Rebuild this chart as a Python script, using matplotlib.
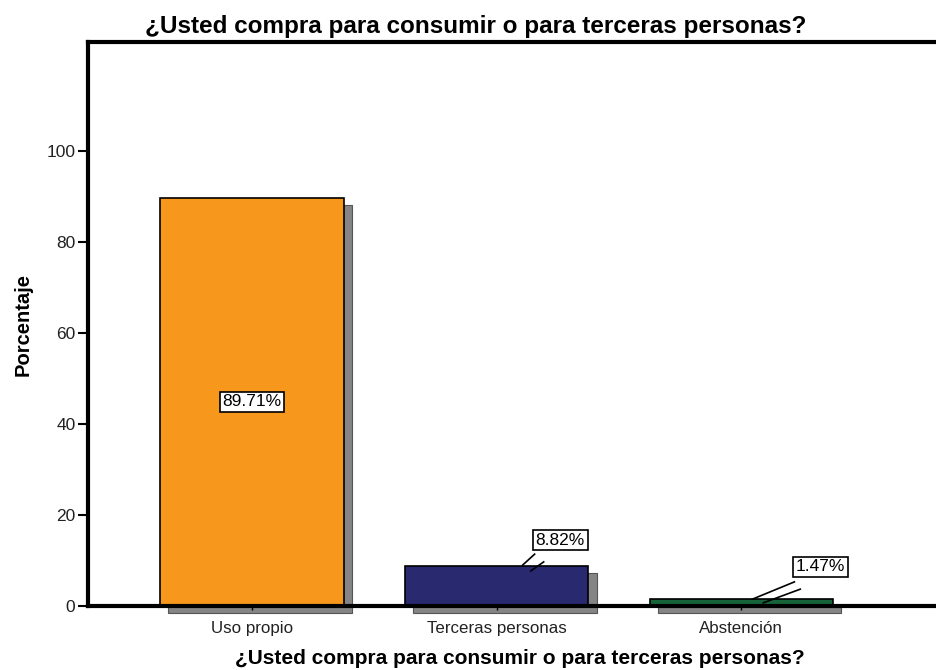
import numpy as np
import matplotlib.pyplot as plt
from matplotlib.patches import Rectangle

# Datos
categorias = ['Uso propio', 'Terceras personas', 'Abstención']
porcentajes = [89.71, 8.82, 1.47]
colores = ['#F7981D', '#29296F', '#17633A']
etiquetas = ['89.71%', '8.82%', '1.47%']
titulo = '¿Usted compra para consumir o para terceras personas?'

plt.rcParams['font.family'] = ['Liberation Sans', 'DejaVu Sans']

fig = plt.figure(figsize=(9.37, 6.7), dpi=100)
ax = fig.add_axes([88 / 937, 64 / 670, 1 - 88 / 937, (606 - 42) / 670])

x = np.arange(len(categorias))
ancho = 0.75

# sombras (desplazadas a la derecha y abajo)
dx, dy = 0.033, -1.6
for xi, v in zip(x, porcentajes):
    ax.add_patch(Rectangle((xi - ancho / 2 + dx, dy), ancho, v, facecolor='#858585',
                           edgecolor='#555555', linewidth=0.8, zorder=1, clip_on=False))

ax.bar(x, porcentajes, width=ancho, color=colores, edgecolor='black', linewidth=1.2, zorder=2)

caja = dict(boxstyle='square,pad=0.15', facecolor='white', edgecolor='black', linewidth=1.2)

# etiqueta dentro de la barra grande
ax.text(x[0], porcentajes[0] / 2, etiquetas[0], ha='center', va='center', fontsize=12.5,
        bbox=caja, zorder=5)

# etiquetas con linea guia (posicion de la caja y dos trazos: linea y su sombra)
pos_etq = [(x[1] + 0.26, 14.5), (x[2] + 0.323, 8.6)]
guias = [
    [((x[1] + 0.155, 11.4), (x[1] + 0.106, 9.0)), ((x[1] + 0.192, 9.7), (x[1] + 0.139, 7.7))],
    [((x[2] + 0.217, 5.3), (x[2] + 0.045, 1.5)), ((x[2] + 0.241, 3.7), (x[2] + 0.09, 0.7))],
]
for i, ((tx, ty), trazos) in enumerate(zip(pos_etq, guias), start=1):
    for (x0, y0), (x1, y1) in trazos:
        ax.plot([x0, x1], [y0, y1], color='black', lw=1.2, zorder=4, clip_on=False)
    ax.text(tx, ty, etiquetas[i], ha='center', va='center', fontsize=12.5, bbox=caja, zorder=5)

ax.set_xlim(-0.671, 2.80)
ax.set_ylim(0, 124)
ax.set_yticks([0, 20, 40, 60, 80, 100])
ax.set_xticks(x)
ax.set_xticklabels(categorias, fontsize=12.2)
ax.tick_params(axis='y', length=7, width=1.5, labelsize=12.5, pad=2, labelcolor='#222222')
ax.tick_params(axis='x', length=3, width=1, pad=8, labelcolor='#222222')

for lado in ['left', 'top', 'bottom']:
    ax.spines[lado].set_linewidth(3)
ax.spines['right'].set_visible(False)

ax.set_ylabel('Porcentaje', fontsize=14.5, fontweight='bold', labelpad=10)
ax.set_xlabel(titulo, fontsize=15, fontweight='bold')
ax.xaxis.set_label_coords((520 - 88) / (937 - 88), -43 / 564)
fig.text(476 / 937, 1 - 26 / 670, titulo, ha='center', va='center', fontsize=17.5,
         fontweight='bold')

fig.savefig('out.png', dpi=100)
